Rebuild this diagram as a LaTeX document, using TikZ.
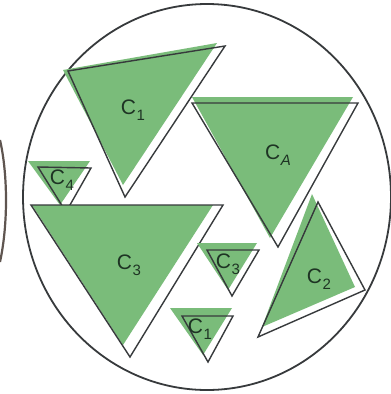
\documentclass[tikz,border=0pt]{standalone}
\usepackage{fontspec}
\setmainfont{Liberation Sans}
\definecolor{tgreen}{RGB}{122,188,122}
\definecolor{tline}{RGB}{55,58,60}
\definecolor{tlabel}{RGB}{30,52,36}
\definecolor{tarc}{RGB}{95,85,80}
\newcommand\clab[1]{C\kern0.5pt\raisebox{-0.28em}{\fontsize{15}{15}\selectfont #1}}
\begin{document}
\begin{tikzpicture}[x=1pt,y=-1pt,
  gfill/.style={fill=tgreen,draw=none},
  tout/.style={draw=tline,line width=1.4pt,line join=miter},
  lab/.style={text=tlabel,font=\fontsize{21}{22}\selectfont,inner sep=0pt}]
\useasboundingbox (0,0) rectangle (391,394);
\fill[white] (0,0) rectangle (391,394);
% left partial arc
\draw[tarc,line width=2.2pt] (0,140) .. controls (8,175) and (8,225) .. (0,262);
% big circle
\draw[tline,line width=1.8pt] (207,197) ellipse [x radius=184, y radius=193];
% C1 big
\fill[gfill] (63,70) -- (217,43) -- (123,185) -- cycle;
\draw[tout] (68,71) -- (225,46) -- (125,197) -- cycle;
% C_A
\fill[gfill] (192,97) -- (353,97) -- (270,238) -- cycle;
\draw[tout] (192,103) -- (358,103) -- (278,247) -- cycle;
% C4 small
\fill[gfill] (28,161) -- (90,161) -- (60,205) -- cycle;
\draw[tout] (38,167) -- (91,168) -- (66,212) -- cycle;
% C3 big
\fill[gfill] (32,205) -- (213,205) -- (123,345) -- cycle;
\draw[tout] (31,205) -- (223,205) -- (130,357) -- cycle;
% C2
\fill[gfill] (312,194) -- (355,287) -- (262,327) -- cycle;
\draw[tout] (318,202) -- (365,290) -- (258,337) -- cycle;
% small C3
\fill[gfill] (197,243) -- (257,243) -- (228,290) -- cycle;
\draw[tout] (207,250) -- (259,250) -- (232,296) -- cycle;
% small C1
\fill[gfill] (170,308) -- (232,308) -- (203,355) -- cycle;
\draw[tout] (182,316) -- (233,316) -- (208,362) -- cycle;
% labels
\node[lab] (l1) at (133,110) {\clab{1}};
\node[lab] (lA) at (278,155) {\clab{\itshape A}};
\node[lab] (l4) at (62,180) {\clab{4}};
\node[lab] (l3) at (129,265) {\clab{3}};
\node[lab] (l2) at (319,279) {\clab{2}};
\node[lab] (l3s) at (228,264) {\clab{3}};
\node[lab] (l1s) at (200,329) {\clab{1}};
\end{tikzpicture}
\end{document}
